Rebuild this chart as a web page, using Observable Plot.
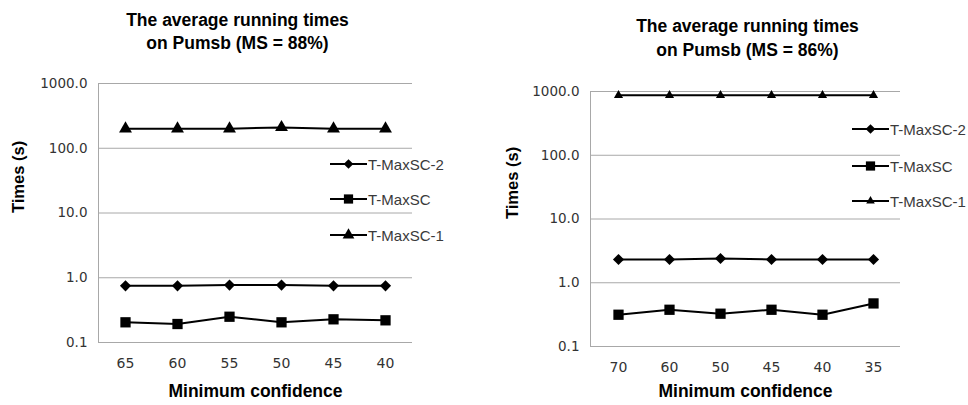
<!DOCTYPE html>
<html><head><meta charset="utf-8">
<script src="https://cdn.jsdelivr.net/npm/d3@7"></script>
<script src="https://cdn.jsdelivr.net/npm/@observablehq/plot@0.6"></script>
<style>
body{margin:0;background:#fff;}
#wrap{position:relative;width:968px;height:405px;overflow:hidden;font-family:"Liberation Sans",Arial,sans-serif;}
.panel{position:absolute;top:0;width:484px;height:405px;}
.legend{position:absolute;font-size:15px;color:#3a3a3a;}
.legend .row{position:absolute;left:0;display:flex;align-items:center;white-space:nowrap;height:20px;margin-top:-10px;}
.legend svg{display:block;margin-right:1px;}
</style></head>
<body><div id="wrap"></div>
<script>
// ---- data ----
const seriesNames = ["T-MaxSC-2", "T-MaxSC", "T-MaxSC-1"];
const yTicks = [0.1, 1, 10, 100, 1000];

const leftTitle = "The average running times\non Pumsb (MS = 88%)";
const leftConf = ["65", "60", "55", "50", "45", "40"];
const leftT2 = [0.75, 0.75, 0.77, 0.77, 0.75, 0.75];
const leftT = [0.205, 0.193, 0.25, 0.205, 0.228, 0.22];
const leftT1 = [200, 200, 200, 210, 200, 200];

const rightTitle = "The average running times\non Pumsb (MS = 86%)";
const rightConf = ["70", "60", "50", "45", "40", "35"];
const rightT2 = [2.32, 2.32, 2.4, 2.32, 2.32, 2.32];
const rightT = [0.315, 0.377, 0.327, 0.377, 0.315, 0.474];
const rightT1 = [870, 870, 870, 870, 870, 870];

const grid = "#a8a8a8";
const symbols = {"T-MaxSC-2": "diamond2", "T-MaxSC": "square", "T-MaxSC-1": "triangle"};

function makePanel(cfg) {
  const rows = cfg.conf.flatMap((c, i) => [
    {c, s: "T-MaxSC-2", v: cfg.t2[i]},
    {c, s: "T-MaxSC", v: cfg.t[i]},
    {c, s: "T-MaxSC-1", v: cfg.t1[i]}
  ]);
  const dots = seriesNames.map(name => Plot.dot(rows.filter(d => d.s === name), {
    x: "c", y: "v", symbol: () => symbols[name], fill: "black", stroke: "none", r: cfg.r[name]
  }));
  return Plot.plot({
    width: 484, height: 405,
    marginLeft: cfg.ml, marginRight: cfg.mr, marginTop: cfg.mt, marginBottom: cfg.mb,
    style: {fontFamily: "DejaVu Sans, sans-serif", background: "white", color: "#333"},
    symbol: {type: "identity"},
    x: {type: "point", domain: cfg.conf, padding: 0.5, label: null},
    y: {type: "log", domain: [0.1, 1000], label: null},
    marks: [
      Plot.ruleY(yTicks, {stroke: grid, strokeWidth: 1}),
      Plot.frame({anchor: "left", stroke: grid}),
      Plot.axisX({tickSize: 0, tickPadding: 16, fontSize: 14, fill: "#333", label: null}),
      Plot.axisY({ticks: yTicks, tickSize: 0, tickPadding: 11, fontSize: 13.5, fill: "#333", tickFormat: d => d.toFixed(1), label: null}),
      Plot.lineY(rows, {x: "c", y: "v", z: "s", stroke: "black", strokeWidth: 2}),
      ...dots,
      Plot.text([cfg.title], {frameAnchor: "top", dx: cfg.tdx, dy: cfg.tdy, lineHeight: cfg.tlh, fontSize: 17.5, fontWeight: "bold", fontFamily: "Liberation Sans, Arial, sans-serif", fill: "black"}),
      Plot.text(["Minimum confidence"], {frameAnchor: "bottom", dy: cfg.xdy, fontSize: 17.5, fontWeight: "bold", fontFamily: "Liberation Sans, Arial, sans-serif", fill: "black"}),
      Plot.text(["Times (s)"], {frameAnchor: "left", dx: cfg.ydx, rotate: -90, fontSize: 16.5, fontWeight: "bold", fontFamily: "Liberation Sans, Arial, sans-serif", fill: "black"})
    ]
  });
}

function legendSymbol(name, size) {
  const svg = d3.create("svg").attr("width", 37).attr("height", 14);
  svg.append("line").attr("x1", 0).attr("x2", 37).attr("y1", 7).attr("y2", 7).attr("stroke", "black").attr("stroke-width", 2);
  const sym = {"T-MaxSC-2": d3.symbolDiamond2, "T-MaxSC": d3.symbolSquare, "T-MaxSC-1": d3.symbolTriangle}[name];
  svg.append("path").attr("transform", "translate(18.5,7)").attr("d", d3.symbol(sym, size)).attr("fill", "black");
  return svg.node();
}

function makeLegend(left, top, gaps, sizes) {
  const lg = document.createElement("div");
  lg.className = "legend";
  lg.style.left = left + "px";
  lg.style.top = top + "px";
  seriesNames.forEach((name, i) => {
    const row = document.createElement("div");
    row.className = "row";
    row.style.top = gaps[i] + "px";
    row.appendChild(legendSymbol(name, sizes[name]));
    const t = document.createElement("span");
    t.textContent = name;
    row.appendChild(t);
    lg.appendChild(row);
  });
  return lg;
}

const wrap = document.getElementById("wrap");

const p1 = document.createElement("div");
p1.className = "panel"; p1.style.left = "0px";
p1.appendChild(makePanel({
  conf: leftConf, t2: leftT2, t: leftT, t1: leftT1, title: leftTitle,
  ml: 98, mr: 72, mt: 83, mb: 63,
  tdx: -18, tdy: -73, tlh: 1.28, xdy: 54, ydx: -80,
  r: {"T-MaxSC-2": 5, "T-MaxSC": 5.8, "T-MaxSC-1": 4.8}
}));
p1.appendChild(makeLegend(330, 0, [164, 199, 235], {"T-MaxSC-2": 60, "T-MaxSC": 85, "T-MaxSC-1": 60}));
wrap.appendChild(p1);

const p2 = document.createElement("div");
p2.className = "panel"; p2.style.left = "484px";
p2.appendChild(makePanel({
  conf: rightConf, t2: rightT2, t: rightT, t1: rightT1, title: rightTitle,
  ml: 106, mr: 68, mt: 91, mb: 59,
  tdx: 2, tdy: -77, tlh: 1.38, xdy: 50, ydx: -78,
  r: {"T-MaxSC-2": 5, "T-MaxSC": 5.8, "T-MaxSC-1": 3.4}
}));
p2.appendChild(makeLegend(368, 0, [129, 166, 201], {"T-MaxSC-2": 60, "T-MaxSC": 85, "T-MaxSC-1": 32}));
wrap.appendChild(p2);
</script></body></html>
